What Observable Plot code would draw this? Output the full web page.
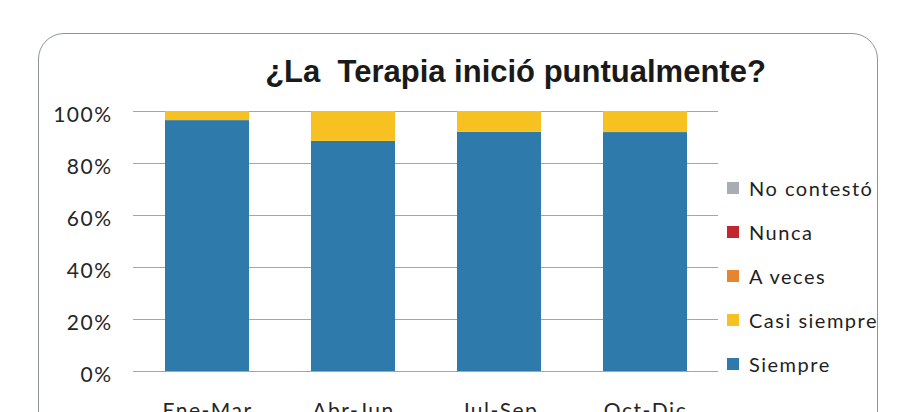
<!DOCTYPE html>
<html><head><meta charset="utf-8">
<script src="https://cdn.jsdelivr.net/npm/d3@7"></script>
<script src="https://cdn.jsdelivr.net/npm/@observablehq/plot@0.6"></script>
<style>
body{margin:0;background:#fff;}
#wrap{position:relative;width:902px;height:412px;overflow:hidden;background:#fff;}
#wrap svg{position:absolute;left:0;top:0;}
#wrap svg text{letter-spacing:1.5px;}
#frame{position:absolute;left:38px;top:33px;width:840px;height:440px;border:1.5px solid #8d969d;border-radius:26px;box-sizing:border-box;}
#title{position:absolute;left:0;top:56px;width:1031px;text-align:center;font:bold 31px "Liberation Sans",Arial,sans-serif;line-height:1;color:#1a1a1a;white-space:pre;}
.lg{position:absolute;left:727px;height:20px;display:flex;align-items:center;font:20px Lato,sans-serif;letter-spacing:1.5px;color:#1f1f1f;white-space:nowrap;}
.lg .sw{width:12px;height:12px;margin-right:10px;flex:none;}
</style></head><body><div id="wrap"><div id="frame"></div><div id="title"></div></div>
<script>
const categories = ["Ene-Mar","Abr-Jun","Jul-Sep","Oct-Dic"];
const series = ["Siempre","Casi siempre","A veces","Nunca","No contestó"];
const colors = ["#2e7bab","#f8c122","#e5862f","#c1272d","#a7adb3"];
const siempre = [0.965,0.885,0.92,0.919];
const casiSiempre = [0.035,0.115,0.08,0.081];
const aVeces = [0,0,0,0];
const nunca = [0,0,0,0];
const noContesto = [0,0,0,0];
const yTicks = [0,0.2,0.4,0.6,0.8,1];
const titleText = "¿La  Terapia inició puntualmente?";

const values = [siempre, casiSiempre, aVeces, nunca, noContesto];
const data = series.flatMap((s,i)=>categories.map((c,j)=>({cat:c, serie:s, value:values[i][j]})));

const chart = Plot.plot({
  width:902, height:412, marginLeft:133, marginRight:184, marginTop:111, marginBottom:41,
  style:{fontFamily:"Lato, sans-serif", fontSize:"21px", color:"#262626", background:"transparent", overflow:"visible"},
  x:{domain:categories, paddingInner:0.426, paddingOuter:0.213, label:null},
  y:{domain:[0,1], label:null},
  color:{domain:series, range:colors},
  marks:[
    Plot.ruleY(yTicks,{stroke:"#a5a5a5", strokeWidth:1}),
    Plot.barY(data, Plot.stackY({x:"cat", y:"value", fill:"serie", order:series})),
    Plot.axisY({ticks:yTicks, tickFormat:d3.format(".0%"), tickSize:0, tickPadding:21, dy:4, fontSize:21}),
    Plot.axisX({tickSize:0, tickPadding:32, fontSize:21})
  ]
});
const wrap = document.getElementById("wrap");
wrap.insertBefore(chart, document.getElementById("frame"));
document.getElementById("title").textContent = titleText;

const legendOrder = series.slice().reverse();
legendOrder.forEach((s,i)=>{
  const d = document.createElement("div");
  d.className = "lg";
  d.style.top = (178 + i*44) + "px";
  const sw = document.createElement("span");
  sw.className = "sw";
  sw.style.background = colors[series.indexOf(s)];
  const t = document.createElement("span");
  t.textContent = s;
  d.appendChild(sw); d.appendChild(t);
  wrap.appendChild(d);
});
</script></body></html>
